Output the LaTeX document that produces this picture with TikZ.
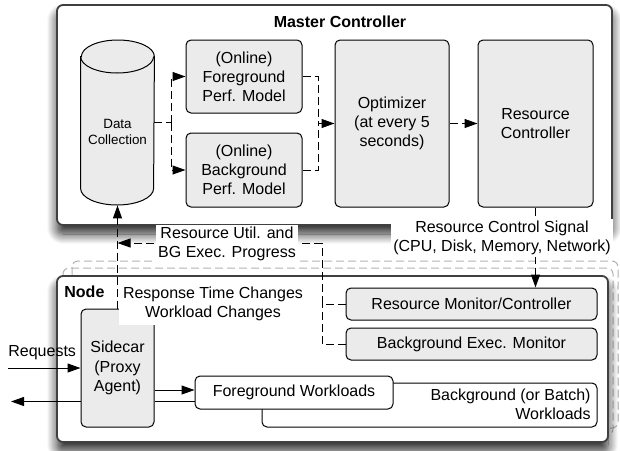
\documentclass[tikz,border=0pt]{standalone}
\usepackage{fontspec}
\setmainfont{Liberation Sans}
\usepackage{tikz}
\usetikzlibrary{positioning,arrows.meta,shadows.blur}

\begin{document}
\begin{tikzpicture}
            [x=0.5pt,y=-0.5pt,
            font=\fontsize{8}{9.6}\selectfont,
            gbox/.style={draw,rounded corners=2.5pt,fill=black!8,align=center,inner sep=0pt,line width=0.5pt},
            wbox/.style={draw,rounded corners=2.5pt,fill=white,inner sep=0pt,line width=0.5pt},
            frame/.style={draw=black!75,fill=white,rounded corners=3pt,line width=0.9pt,
              blur shadow={shadow xshift=0pt,shadow yshift=-4.5pt,shadow blur radius=5pt,shadow blur steps=12,shadow opacity=85}},
            stack/.style={draw=black!30,dash pattern=on 4pt off 2pt,rounded corners=3pt,line width=0.5pt},
            dl/.style={dash pattern=on 4pt off 2pt,line width=0.5pt},
            da/.style={dl,-{Triangle[length=6.5pt,width=4.5pt]}},
            sa/.style={line width=0.5pt,-{Triangle[length=6.5pt,width=4.5pt]}},
            dcap/.style={x radius=18.25pt,y radius=8.25pt},
            lbl/.style={fill=white,align=center,inner sep=1pt}]
            \useasboundingbox (0,0) rectangle (620,450);
            \node[frame,minimum width=277.5pt,minimum height=110pt](master) at (334.5,115) {};
            \node[font=\fontsize{8}{9.6}\selectfont\bfseries](mtitle) at (340,22) {Master Controller};
            \node[inner sep=0pt,minimum width=36.5pt,minimum height=82.5pt](dc) at (117.5,122.5) {};
            \path[draw,fill=black!8,line width=0.5pt] (dc.west |- 0,56.5) -- (dc.west |- 0,188.5)
              arc[start angle=180,end angle=360,dcap] -- (dc.east |- 0,56.5)
              arc[start angle=0,end angle=180,dcap] -- cycle;
            \draw[line width=0.5pt] (dc.west |- 0,56.5) arc[start angle=180,end angle=360,dcap];
            \node[align=center,inner sep=0pt,font=\fontsize{6.7}{8}\selectfont](dctext) at (117.5,132) {Data\\Collection};
            \node[gbox,minimum width=58pt,minimum height=36.5pt](fg) at (244,76.5) {(Online)\\Foreground\\Perf. Model};
            \node[gbox,minimum width=58pt,minimum height=37pt](bg) at (244,170) {(Online)\\Background\\Perf. Model};
            \node[gbox,minimum width=57pt,minimum height=83.5pt](opt) at (392,123.5) {Optimizer\\(at every 5\\seconds)};
            \node[gbox,minimum width=57.5pt,minimum height=83.5pt](rc) at (535.5,123.5) {Resource\\Controller};
            \coordinate(split) at (171,122.5);
            \coordinate(merge) at (318,123.5);
            \draw[dl](dc.east) -- (split);
            \draw[da](split) |- (fg.west);
            \draw[da](split) |- (bg.west);
            \draw[dl](fg.east) -| (merge);
            \draw[dl](bg.east) -| (merge);
            \draw[da](merge) -- (opt.west);
            \draw[da](opt.east) -- (rc.west);
            \draw[stack] (72,261) rectangle (618,428);
            \draw[stack] (63,268) rectangle (613,435);
            \node[frame,minimum width=275.5pt,minimum height=83pt](node) at (332.5,359) {};
            \node[font=\fontsize{8}{9.6}\selectfont\bfseries,anchor=west,inner sep=0pt](ntitle) at (64,292) {Node};
            \node[gbox,minimum width=36.5pt,minimum height=59pt](sc) at (117.5,368) {Sidecar\\(Proxy\\Agent)};
            \node[gbox,minimum width=125.5pt,minimum height=16pt](rmc) at (471.5,304) {Resource Monitor/Controller};
            \node[gbox,minimum width=125.5pt,minimum height=16pt](bem) at (471.5,344) {Background Exec. Monitor};
            \node[wbox,minimum width=167.5pt,minimum height=22pt](bgw) at (429.5,405) {};
            \node[anchor=east,align=right,inner sep=0pt](bgwtext) at (591,404.5) {Background (or Batch)\\Workloads};
            \node[wbox,minimum width=99pt,minimum height=16.5pt](fgw) at (294,392.5) {Foreground Workloads};
            \coordinate(ru) at (322,243);
            \draw[dl](rmc.west) -| (ru);
            \draw[dl](bem.west) -| ([yshift=-0.1pt]rmc.west -| ru);
            \draw[da](ru) -- (ru -| dc.south);
            \draw[da](sc.north) -- (dc.south);
            \node[lbl](util) at (227,244) {Resource Util. and\\BG Exec. Progress};
            \node[lbl,inner sep=2pt](resp) at (213,304) {Response Time Changes\\Workload Changes};
            \draw[da](rc.south) -- (rc.south |- rmc.north);
            \node[lbl](sig) at (502,238) {Resource Control Signal\\(CPU, Disk, Memory, Network)};
            \node[anchor=west,inner sep=0pt](req) at (8,353) {Requests};
            \coordinate(reqin) at (8,368);
            \coordinate(reqout) at (11,401.5);
            \draw[sa](reqin) -- (reqin -| sc.west);
            \draw[sa](sc.east |- 0,390) -- (fgw.west |- 0,390);
            \draw[line width=0.5pt](fgw.west |- 0,401.5) -- (sc.east |- 0,401.5);
            \draw[sa](sc.west |- reqout) -- (reqout);
        \end{tikzpicture}
\end{document}
